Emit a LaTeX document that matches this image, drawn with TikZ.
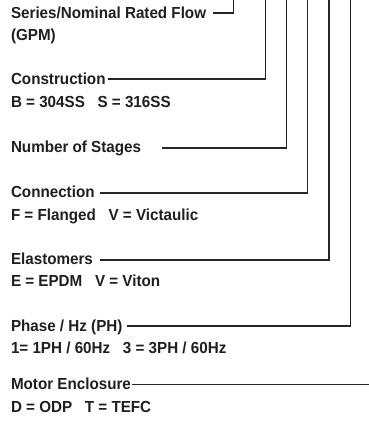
\documentclass[tikz,border=0pt]{standalone}
\usepackage{fontspec}
\setmainfont{Liberation Sans}[FakeStretch=0.95]
\begin{document}
\begin{tikzpicture}[x=1pt,y=-1pt,
  lbl/.style={anchor=base west,inner sep=0pt,outer sep=0pt,font=\fontsize{16}{18}\selectfont\bfseries,text=black!88},
  lead/.style={draw=black!85,line width=1.1pt}]
\useasboundingbox (0,0) rectangle (369,429);
% labels
\node[lbl] (ser)  at (11,18)    {Series/Nominal Rated Flow};
\node[lbl] (gpm)  at (11,40)    {(GPM)};
\node[lbl] (con)  at (11,84.5)  {Construction};
\node[lbl] (conv) at (11,107)   {B = 304SS\ \ \ S = 316SS};
\node[lbl] (stg)  at (11,152)   {Number of Stages};
\node[lbl] (cnx)  at (11,197.5) {Connection};
\node[lbl] (cnxv) at (11,220)   {F = Flanged\ \ \ V = Victaulic};
\node[lbl] (ela)  at (11,264)   {Elastomers};
\node[lbl] (elav) at (11,286.5) {E = EPDM\ \ \ V = Viton};
\node[lbl] (pha)  at (11,331)   {Phase / Hz (PH)};
\node[lbl] (phav) at (11,353.5) {1= 1PH / 60Hz\ \ \ 3 = 3PH / 60Hz};
\node[lbl] (mot)  at (11,389.5) {Motor Enclosure};
\node[lbl] (motv) at (11,412)   {D = ODP\ \ \ T = TEFC};
% leader start points
\coordinate (s1) at (213,13);
\coordinate (s2) at (108,79);
\coordinate (s3) at (162,148);
\coordinate (s4) at (100,193);
\coordinate (s5) at (100,260);
\coordinate (s6) at (127,326);
\coordinate (s7) at (132,384.5);
% top ends
\coordinate (t1) at (233.5,0);
\coordinate (t2) at (265.5,0);
\coordinate (t3) at (286.5,0);
\coordinate (t4) at (307.5,0);
\coordinate (t5) at (329,0);
\coordinate (t6) at (350.5,0);
\coordinate (t7) at (369,384.5);
% leaders
\draw[lead] (s1) -| (t1);
\draw[lead] (s2) -| (t2);
\draw[lead] (s3) -| (t3);
\draw[lead] (s4) -| (t4);
\draw[lead] (s5) -| (t5);
\draw[lead] (s6) -| (t6);
\draw[lead] (s7) -- (t7);
\end{tikzpicture}
\end{document}
